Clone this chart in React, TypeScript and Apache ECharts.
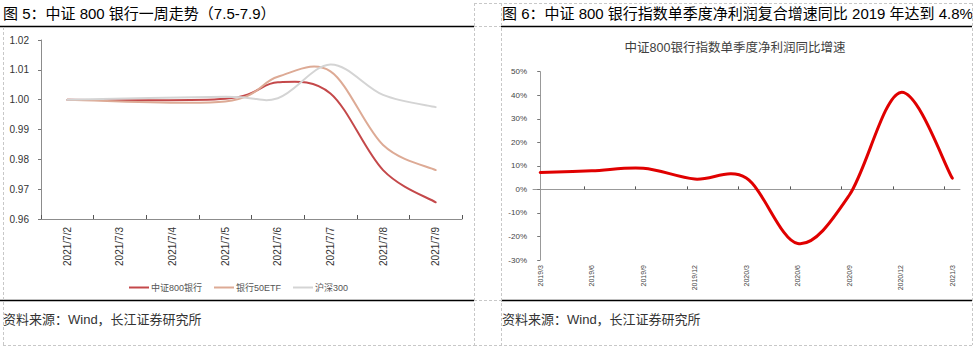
import React, { useEffect, useRef } from "react";
import * as echarts from "echarts";

// ---------- data: left chart (weekly trend) ----------
const dayLabels = ["2021/7/2", "2021/7/3", "2021/7/4", "2021/7/5", "2021/7/6", "2021/7/7", "2021/7/8", "2021/7/9"];
const bank800 = [1.0, null, null, 1.0003, 1.0058, 1.0021, 0.9764, 0.9656];
const bank50etf = [1.0, null, null, 0.9994, 1.0077, 1.0095, 0.9848, 0.9764];
const hs300 = [1.0, null, null, 1.001, 1.0005, 1.0118, 1.0016, 0.9975];
const leftSeriesNames = ["中证800银行", "银行50ETF", "沪深300"];
const leftColors = ["#C4484A", "#DDAA95", "#D4D4D4"];

// ---------- data: right chart (quarterly profit growth, %) ----------
const quarterLabels = ["2019/3", "2019/6", "2019/9", "2019/12", "2020/3", "2020/6", "2020/9", "2020/12", "2021/3"];
const profitGrowth = [7.2, 7.9, 9.0, 4.4, 4.8, -23.0, -2.5, 41.2, 4.8];
const quarterIdx = quarterLabels.map((_, i) => i);
const quarterTickPos = quarterLabels.slice(0, 8).map((_, i) => i + 0.85);

const titleLeft = "图 5：中证 800 银行一周走势（7.5-7.9）";
const titleRight = "图 6：中证 800 银行指数单季度净利润复合增速同比 2019 年达到 4.8%";
const chartTitleRight = "中证800银行指数单季度净利润同比增速";
const sourceText = "资料来源：Wind，长江证券研究所";

const FONT = "'Liberation Sans', Arial, 'Noto Sans CJK SC', sans-serif";

// Excel-like smoothed line (Catmull-Rom as cubic Bezier) through pixel points
function smoothPath(pts: number[][]): string {
  if (!pts.length) return "";
  let d = `M${pts[0][0]},${pts[0][1]}`;
  const t = 1 / 6;
  for (let i = 0; i < pts.length - 1; i++) {
    const p0 = pts[i - 1] || pts[i];
    const p1 = pts[i];
    const p2 = pts[i + 1];
    const p3 = pts[i + 2] || p2;
    const c1x = p1[0] + (p2[0] - p0[0]) * t;
    const c1y = p1[1] + (p2[1] - p0[1]) * t;
    const c2x = p2[0] - (p3[0] - p1[0]) * t;
    const c2y = p2[1] - (p3[1] - p1[1]) * t;
    d += ` C${c1x},${c1y} ${c2x},${c2y} ${p2[0]},${p2[1]}`;
  }
  return d;
}

function toPoints(values: (number | null)[], xs?: number[]): number[][] {
  const out: number[][] = [];
  values.forEach((v, i) => {
    if (v != null) out.push([xs ? xs[i] : i, v]);
  });
  return out;
}

function smoothSeries(name: string, points: number[][], color: string, width: number, axis: number) {
  return {
    name,
    type: "custom",
    coordinateSystem: "cartesian2d",
    xAxisIndex: axis === 0 ? 0 : 1,
    yAxisIndex: axis,
    data: points,
    encode: { x: 0, y: 1 },
    itemStyle: { color },
    clip: false,
    renderItem: (params: any, api: any) => {
      if (params.dataIndex !== 0) return null;
      const px = points.map((p) => api.coord(p));
      return {
        type: "path",
        shape: { pathData: smoothPath(px) },
        style: { fill: "none", stroke: color, lineWidth: width, lineJoin: "round", lineCap: "round" },
        silent: true,
      };
    },
  };
}

export default function App() {
  const ref = useRef<HTMLDivElement>(null);

  useEffect(() => {
    document.body.style.margin = "0";
    const chart = echarts.init(ref.current!, undefined, { renderer: "svg" });

    const dashed = { stroke: "#c8c8c8", lineWidth: 1, lineDash: [3, 2] };
    const seg = (x1: number, y1: number, x2: number, y2: number, style: any) => ({
      type: "line",
      shape: { x1, y1, x2, y2 },
      style,
      silent: true,
    });

    const option: any = {
      animation: false,
      textStyle: { fontFamily: FONT },
      legend: {
        left: 124,
        top: 278,
        icon: "rect",
        itemWidth: 20,
        itemHeight: 2,
        itemGap: 12,
        data: leftSeriesNames,
        textStyle: { fontSize: 9, color: "#555", fontFamily: FONT, padding: [0, 0, 0, -3] },
      },
      grid: [
        { left: 41, top: 40, width: 421, height: 179 },
        { left: 533, top: 71.7, width: 427, height: 188.3 },
      ],
      xAxis: [
        {
          type: "category",
          gridIndex: 0,
          data: dayLabels,
          boundaryGap: true,
          axisLine: { lineStyle: { color: "#8c8c8c", width: 1 } },
          axisTick: { show: true, inside: true, length: 4, lineStyle: { color: "#555" } },
          axisLabel: { rotate: 90, interval: 0, fontSize: 10, color: "#333", margin: 8, fontFamily: FONT },
          splitLine: { show: false },
        },
        {
          type: "value",
          gridIndex: 1,
          min: -0.14,
          max: 8.15,
          axisLine: { show: true, onZero: true, lineStyle: { color: "#999", width: 1 } },
          axisTick: { show: true, inside: true, length: 3, customValues: quarterTickPos, lineStyle: { color: "#555" } },
          axisLabel: { show: false },
          splitLine: { show: false },
        },
        {
          type: "value",
          gridIndex: 1,
          min: -0.14,
          max: 8.15,
          position: "bottom",
          axisLine: { show: false, onZero: false },
          axisTick: { show: false },
          axisLabel: {
            show: true,
            customValues: quarterIdx,
            rotate: 90,
            fontSize: 7,
            color: "#444",
            margin: 5,
            fontFamily: FONT,
            formatter: (v: number) => quarterLabels[Math.round(v)] ?? "",
          },
          splitLine: { show: false },
        },
      ],
      yAxis: [
        {
          type: "value",
          gridIndex: 0,
          min: 0.96,
          max: 1.02,
          interval: 0.01,
          axisLine: { show: true, lineStyle: { color: "#8c8c8c", width: 1 } },
          axisTick: { show: true, length: 3, lineStyle: { color: "#777" } },
          axisLabel: { fontSize: 10, color: "#333", margin: 12, fontFamily: FONT, formatter: (v: number) => v.toFixed(2) },
          splitLine: { show: false },
        },
        {
          type: "value",
          gridIndex: 1,
          min: -30,
          max: 50,
          interval: 10,
          axisLine: { show: true, lineStyle: { color: "#999", width: 1 } },
          axisTick: { show: true, length: 3, lineStyle: { color: "#777" } },
          axisLabel: { fontSize: 8, color: "#444", margin: 6, fontFamily: FONT, formatter: "{value}%" },
          splitLine: { show: false },
        },
      ],
      series: [
        smoothSeries(leftSeriesNames[0], toPoints(bank800), leftColors[0], 2, 0),
        smoothSeries(leftSeriesNames[1], toPoints(bank50etf), leftColors[1], 2, 0),
        smoothSeries(leftSeriesNames[2], toPoints(hs300), leftColors[2], 2, 0),
        smoothSeries("净利润同比增速", toPoints(profitGrowth, quarterIdx), "#E00000", 3, 1),
      ],
      graphic: [
        // titles
        { type: "text", left: 3, top: 6, silent: true, style: { text: titleLeft, fontSize: 15, fill: "#000", fontFamily: FONT } },
        { type: "text", left: 502, top: 6, silent: true, style: { text: titleRight, fontSize: 15, fill: "#000", fontFamily: FONT } },
        {
          type: "text",
          x: 735,
          y: 48,
          silent: true,
          style: { text: chartTitleRight, fontSize: 12.5, fill: "#404040", align: "center", verticalAlign: "middle", fontFamily: FONT },
        },
        // source
        { type: "text", left: 3, top: 313, silent: true, style: { text: sourceText, fontSize: 13, fill: "#333", fontFamily: FONT } },
        { type: "text", left: 502, top: 313, silent: true, style: { text: sourceText, fontSize: 13, fill: "#333", fontFamily: FONT } },
        // solid rules
        seg(0, 26.5, 474, 26.5, { stroke: "#000", lineWidth: 1.5 }),
        seg(501, 26.5, 972, 26.5, { stroke: "#000", lineWidth: 1.5 }),
        seg(0, 300.5, 474, 300.5, { stroke: "#000", lineWidth: 1.5 }),
        seg(501, 300.5, 972, 300.5, { stroke: "#000", lineWidth: 1.5 }),
        // dashed borders
        seg(3.5, 27, 3.5, 345, dashed),
        seg(474.5, 3, 474.5, 345, dashed),
        seg(3, 345.5, 474, 345.5, dashed),
        seg(474, 3.5, 972, 3.5, dashed),
        seg(474, 26.5, 501, 26.5, dashed),
        seg(474, 300.5, 501, 300.5, dashed),
        seg(501.5, 3, 501.5, 345, dashed),
        seg(972.5, 3, 972.5, 345, dashed),
        seg(474, 345.5, 972, 345.5, dashed),
      ],
    };

    chart.setOption(option);
    return () => chart.dispose();
  }, []);

  return <div ref={ref} style={{ width: 976, height: 350 }} />;
}
